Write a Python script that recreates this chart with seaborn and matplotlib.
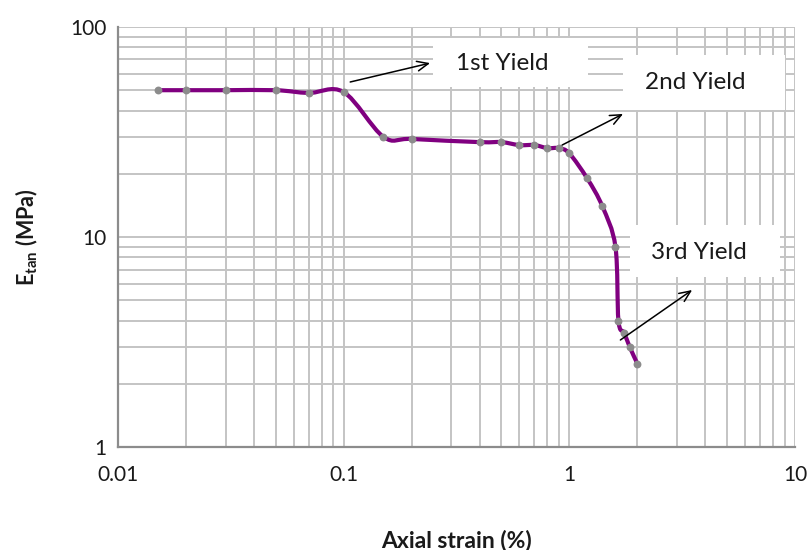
import matplotlib
matplotlib.use("Agg")
import matplotlib.pyplot as plt
import matplotlib.patches as mpatches
from matplotlib.path import Path
import numpy as np
import seaborn as sns
import pandas as pd

# Tangent modulus versus axial strain
strain = [0.015, 0.02, 0.03, 0.05, 0.07, 0.1, 0.15, 0.2, 0.4, 0.5, 0.6, 0.7,
          0.8, 0.9, 1.0, 1.2, 1.4, 1.6, 1.65, 1.75, 1.85, 2.0]
etan = [50, 50, 50, 50, 48.5, 49, 30, 29.3, 28.3, 28.3, 27.4, 27.4,
        26.5, 26.5, 25, 19, 14, 9, 4, 3.5, 3, 2.5]

x_ticks = [0.01, 0.1, 1, 10]
x_tick_labels = ["0.01", "0.1", "1", "10"]
y_ticks = [1, 10, 100]
y_tick_labels = ["1", "10", "100"]

yield_labels = ["1st Yield", "2nd Yield", "3rd Yield"]

df = pd.DataFrame({"strain": strain, "etan": etan})

sns.set_style("white")
plt.rcParams["font.family"] = ["Lato", "DejaVu Sans"]
plt.rcParams["mathtext.fontset"] = "custom"
plt.rcParams["mathtext.rm"] = "Lato"
plt.rcParams["mathtext.bf"] = "Lato:bold"

fig = plt.figure(figsize=(8.08, 5.50), dpi=100)
ax = fig.add_axes([0.146, 0.187, 0.838, 0.764])

ax.set_xscale("log")
ax.set_yscale("log")
ax.set_xlim(0.01, 10)
ax.set_ylim(1, 100)


def smooth_path(xs, ys):
    """Catmull-Rom style cubic Bezier through the points, built in log-log space."""
    lx, ly = np.log10(xs), np.log10(ys)
    pts = np.column_stack([lx, ly])
    n = len(pts)
    verts = [pts[0]]
    codes = [Path.MOVETO]
    for i in range(n - 1):
        p_prev = pts[max(i - 1, 0)]
        p0, p1 = pts[i], pts[i + 1]
        p_next = pts[min(i + 2, n - 1)]
        c1 = p0 + (p1 - p_prev) / 6.0
        c2 = p1 - (p_next - p0) / 6.0
        verts += [c1, c2, p1]
        codes += [Path.CURVE4] * 3
    verts = 10 ** np.array(verts)
    return Path(verts, codes)


ax.add_patch(mpatches.PathPatch(smooth_path(df["strain"], df["etan"]),
                                facecolor="none", edgecolor="#800080",
                                linewidth=3.0, capstyle="round",
                                joinstyle="round", zorder=3))

sns.scatterplot(data=df, x="strain", y="etan", ax=ax, color="#8c8c8c",
                s=32, linewidth=0, zorder=4, legend=False)

ax.set_xticks(x_ticks)
ax.set_xticklabels(x_tick_labels)
ax.set_yticks(y_ticks)
ax.set_yticklabels(y_tick_labels)

ax.grid(True, which="major", color="#c4c4c4", linewidth=1.4)
ax.grid(True, which="minor", color="#c4c4c4", linewidth=1.4)
ax.tick_params(axis="both", which="major", direction="out", length=6,
               width=1.2, color="#8c8c8c", labelsize=15,
               labelcolor="#1a1a1a", pad=2)
ax.tick_params(axis="x", which="major", pad=7)
ax.tick_params(axis="both", which="minor", length=0)
ax.set_axisbelow(True)

for side in ["left", "bottom"]:
    ax.spines[side].set_color("#8c8c8c")
    ax.spines[side].set_linewidth(1.6)
for side in ["top", "right"]:
    ax.spines[side].set_visible(False)

ax.set_xlabel("Axial strain (%)", fontsize=16.5, fontweight="bold",
              labelpad=32, color="#1a1a1a")
ax.set_ylabel(r"$\mathbf{E}_{\mathbf{tan}}$ (MPa)", fontsize=15.5,
              fontweight="bold", labelpad=22, color="#1a1a1a")

# White label boxes (axes fraction: x0, y0, width, height)
boxes = [(0.465, 0.857, 0.229, 0.117),
         (0.746, 0.802, 0.239, 0.131),
         (0.756, 0.405, 0.222, 0.124)]
text_pos = [(0.567, 0.914), (0.852, 0.867), (0.858, 0.464)]
arrows = [((0.343, 0.869), (0.461, 0.914)),
          ((0.656, 0.719), (0.746, 0.793)),
          ((0.742, 0.255), (0.848, 0.374))]

for (bx, by, bw, bh), (tx, ty), ((sx, sy), (ex, ey)), label in zip(
        boxes, text_pos, arrows, yield_labels):
    ax.add_patch(mpatches.Rectangle((bx, by), bw, bh, transform=ax.transAxes,
                                    facecolor="white", edgecolor="none",
                                    zorder=2))
    ax.text(tx, ty, label, transform=ax.transAxes, ha="center", va="center",
            fontsize=17.5, color="#1a1a1a", zorder=5)
    ax.annotate("", xy=(ex, ey), xytext=(sx, sy), xycoords="axes fraction",
                textcoords="axes fraction",
                arrowprops=dict(arrowstyle="->,head_length=0.8,head_width=0.35",
                                color="black", lw=1.1, shrinkA=0, shrinkB=0),
                zorder=5)

fig.savefig("out.png", dpi=100)
